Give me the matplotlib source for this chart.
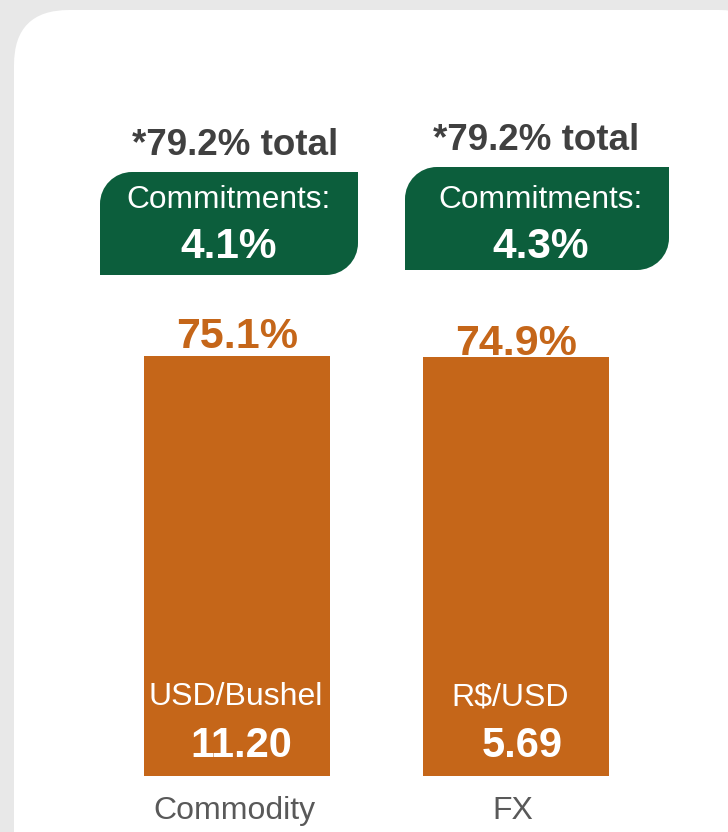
import numpy as np
import matplotlib
matplotlib.use("Agg")
import matplotlib.pyplot as plt
import matplotlib.transforms as mtransforms
from matplotlib.patches import PathPatch, FancyBboxPatch
from matplotlib.path import Path

# data
categories = ["Commodity", "FX"]
hedged = [75.1, 74.9]
commitments = [4.1, 4.3]
totals = [79.2, 79.2]
units = ["USD/Bushel", "R$/USD"]
prices = [11.20, 5.69]

ORANGE = "#c56619"
GREEN = "#0c5e3c"
DARK = "#404040"
GREY = "#595959"

W, H = 728, 832
plt.rcParams["font.family"] = ["Liberation Sans", "DejaVu Sans"]

fig = plt.figure(figsize=(W / 100, H / 100), dpi=100, facecolor="#e8e8e8")
# pixel coordinates, origin top-left
px = mtransforms.Affine2D().scale(0.01, -0.01).translate(0, H / 100) + fig.dpi_scale_trans

# white card
card = FancyBboxPatch((14, 10), 760, 900, boxstyle="round,pad=0,rounding_size=55",
                      transform=px, fc="white", ec="none", zorder=-1)
fig.patches.append(card)

ax = fig.add_axes([97.5 / W, 56 / H, 558 / W, 559 / H])
ax.set_xlim(-0.5, 1.5)
ax.set_ylim(0, 100)
ax.axis("off")

x = np.arange(len(categories))
ax.bar(x, hedged, width=0.667, color=ORANGE)

# layout tweaks (pixels)
label_gap = [8, 2]
unit_dx = [-1, -6]
price_dx = [4, 6]

for i, v in enumerate(hedged):
    ax.annotate(f"{v}%", (x[i], v), xytext=(0, label_gap[i]), textcoords="offset pixels",
                ha="center", va="baseline", fontsize=31, fontweight="bold", color=ORANGE)
    ax.annotate(units[i], (x[i], 0), xytext=(unit_dx[i], 71), textcoords="offset pixels",
                ha="center", va="baseline", fontsize=23, color="white")
    ax.annotate(f"{prices[i]:.2f}", (x[i], 0), xytext=(price_dx[i], 19), textcoords="offset pixels",
                ha="center", va="baseline", fontsize=30, fontweight="bold", color="white")
    ax.annotate(categories[i], (x[i], 0), xytext=(-3, -43), textcoords="offset pixels",
                ha="center", va="baseline", fontsize=23, color=GREY)


def leaf_box(x0, y0, x1, y1, r):
    k = 0.5523 * r
    verts = [(x0, y1), (x1 - r, y1), (x1 - r + k, y1), (x1, y1 - r + k), (x1, y1 - r),
             (x1, y0), (x0 + r, y0), (x0 + r - k, y0), (x0, y0 + r - k), (x0, y0 + r),
             (x0, y1)]
    codes = [Path.MOVETO, Path.LINETO, Path.CURVE4, Path.CURVE4, Path.CURVE4,
             Path.LINETO, Path.LINETO, Path.CURVE4, Path.CURVE4, Path.CURVE4,
             Path.CLOSEPOLY]
    return Path(verts, codes)


boxes = [(100, 172, 358, 275), (405, 167, 669, 270)]
total_pos = [(235, 155), (536, 150)]
commit_cx = [229, 541]

for i in range(len(categories)):
    x0, y0, x1, y1 = boxes[i]
    fig.patches.append(PathPatch(leaf_box(x0, y0, x1, y1, 32), transform=px,
                                 fc=GREEN, ec="none"))
    fig.text(commit_cx[i], 208, "Commitments:", transform=px, ha="center", va="baseline",
             fontsize=22.8, color="white")
    fig.text(commit_cx[i], 258, f"{commitments[i]}%", transform=px, ha="center", va="baseline",
             fontsize=30.5, fontweight="bold", color="white")
    tx, ty = total_pos[i]
    fig.text(tx, ty, f"*{totals[i]}% total", transform=px, ha="center", va="baseline",
             fontsize=26.5, fontweight="bold", color=DARK)

fig.savefig("out.png", dpi=100, facecolor=fig.get_facecolor())
